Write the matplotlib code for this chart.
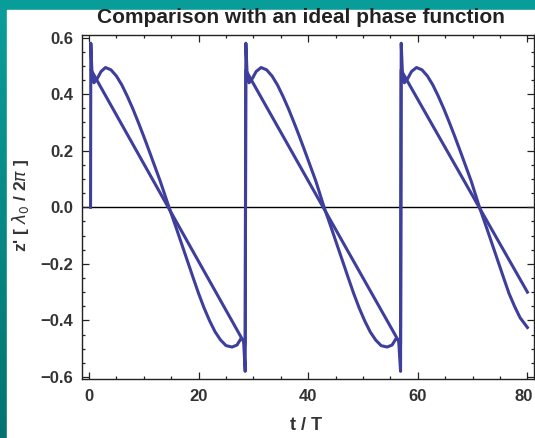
import matplotlib
matplotlib.use("Agg")
import matplotlib.pyplot as plt
import numpy as np
from matplotlib.patches import Rectangle
from matplotlib.colors import LinearSegmentedColormap
from matplotlib.transforms import ScaledTranslation

# ---- data ----
t_ideal = [0.40, 28.50, 28.60, 56.85, 56.95, 80.0]
z_ideal = [0.485, -0.485, 0.485, -0.485, 0.485, -0.30]

t_sim = [0.28, 0.33, 0.55, 0.9, 1.5, 2.2, 3.0, 4.0, 5.0, 6.0, 7.0, 8.0, 9.0, 10.0, 11.0, 12.0, 13.0, 14.6,
         16.0, 17.0, 18.0, 19.0, 20.0, 21.0, 22.0, 23.0, 24.0, 25.0, 26.1, 27.0, 27.7, 28.2, 28.5, 28.62,
         28.85, 29.2, 29.8, 30.5, 31.4, 32.4, 33.4, 34.4, 35.4, 36.4, 37.4, 38.4, 39.4, 40.4, 41.4, 42.9,
         44.3, 45.3, 46.3, 47.3, 48.3, 49.3, 50.3, 51.3, 52.3, 53.3, 54.4, 55.3, 56.0, 56.5, 56.85, 56.97,
         57.2, 57.55, 58.15, 58.85, 59.75, 60.75, 61.75, 62.75, 63.75, 64.75, 65.75, 66.75, 67.75, 68.75,
         69.75, 71.25, 72.65, 73.65, 74.65, 75.65, 76.65, 77.65, 78.65, 80.0]
z_sim = [0.0, 0.58, 0.47, 0.44, 0.455, 0.48, 0.494, 0.486, 0.464, 0.432, 0.392, 0.348, 0.300, 0.250, 0.198, 0.145, 0.092, 0.0,
         -0.078, -0.135, -0.192, -0.249, -0.305, -0.356, -0.401, -0.440, -0.469, -0.489, -0.494, -0.487, -0.465, -0.47, -0.58, 0.58,
         0.47, 0.44, 0.455, 0.48, 0.494, 0.486, 0.464, 0.432, 0.392, 0.348, 0.300, 0.250, 0.198, 0.145, 0.092, 0.0,
         -0.078, -0.135, -0.192, -0.249, -0.305, -0.356, -0.401, -0.440, -0.469, -0.489, -0.494, -0.487, -0.465, -0.47, -0.58, 0.58,
         0.47, 0.44, 0.455, 0.48, 0.494, 0.486, 0.464, 0.432, 0.392, 0.348, 0.300, 0.250, 0.198, 0.145,
         0.092, 0.0, -0.078, -0.135, -0.192, -0.249, -0.305, -0.35, -0.39, -0.425]

x_ticks = [0, 20, 40, 60, 80]
y_ticks = [-0.6, -0.4, -0.2, 0.0, 0.2, 0.4, 0.6]
y_ticklabels = ["\u22120.6", "\u22120.4", "\u22120.2", "0.0", "0.2", "0.4", "0.6"]

plt.rcParams['font.family'] = ['Liberation Sans', 'DejaVu Sans']

W, H = 535, 438
fig = plt.figure(figsize=(W / 100, H / 100), dpi=100)

# teal background with gradient
bg = fig.add_axes([0, 0, 1, 1], zorder=-10)
grad = np.linspace(0, 1, 256).reshape(-1, 1)
cmap = LinearSegmentedColormap.from_list("teal", ["#0a9e9b", "#057470"])
bg.imshow(grad, aspect='auto', cmap=cmap, extent=[0, 1, 0, 1], origin='upper')
bg.add_patch(Rectangle((7 / W, 0), 1, 1 - 10 / H, color='white', transform=bg.transAxes))
bg.set_xlim(0, 1); bg.set_ylim(0, 1)
bg.axis('off')

left, right, top, bottom = 82, 534, 35, 379
ax = fig.add_axes([left / W, 1 - bottom / H, (right - left) / W, (bottom - top) / H])
ax.set_facecolor('white')

col = '#3e3e9c'
ax.plot(t_ideal, z_ideal, color=col, lw=2.2, solid_joinstyle='round')
ax.plot(t_sim, z_sim, color=col, lw=2.2, solid_joinstyle='round')
ax.axhline(0, color='black', lw=1.0, zorder=0.5)

ax.set_xlim(-1.28, 81.2)
ax.set_ylim(-0.607, 0.609)
ax.set_xticks(x_ticks)
ax.set_yticks(y_ticks)
ax.set_yticklabels(y_ticklabels)
ax.set_xticks(np.arange(0, 81, 5), minor=True)
ax.set_yticks(np.arange(-0.6, 0.61, 0.05), minor=True)
ax.tick_params(which='both', direction='in', top=True, right=True, colors='#222222',
               labelcolor='#333333', width=0.9)
ax.tick_params(which='major', length=5, labelsize=12)
ax.tick_params(axis='x', which='major', pad=7.5)
ax.tick_params(axis='y', which='major', pad=6.5)
ax.tick_params(which='minor', length=2.5)
for lbl in ax.get_xticklabels() + ax.get_yticklabels():
    lbl.set_fontweight('bold')
for s in ax.spines.values():
    s.set_linewidth(1.0)
    s.set_color('#222222')

# keep the last x tick label ("80") inside the picture, as in the reference
last = ax.xaxis.get_major_ticks()[-1].label1
last.set_transform(last.get_transform() + ScaledTranslation(-3 / 72, 0, fig.dpi_scale_trans))

fig.text(301 / W, 1 - 17.5 / H, "Comparison with an ideal phase function", ha='center', va='center',
         fontsize=15, fontweight='bold', color='#222222')
fig.text(306 / W, 1 - 425 / H, "t / T", ha='center', va='center', fontsize=13,
         fontweight='bold', color='#333333')
fig.text(21 / W, 1 - 205 / H, r"z' [ $\lambda_0$ / 2$\pi$ ]", ha='center', va='center', rotation=90,
         fontsize=12.5, fontweight='bold', color='#333333')

fig.savefig("out.png", dpi=100)
